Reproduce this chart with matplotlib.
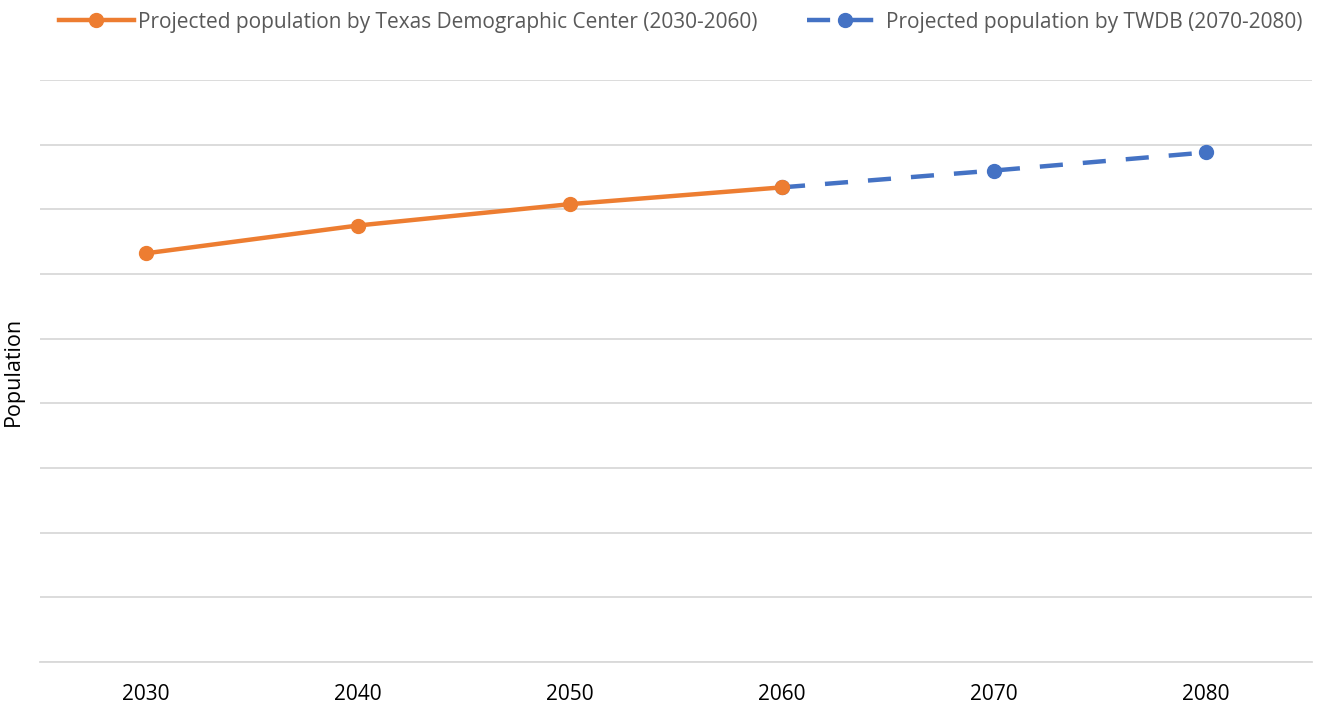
import matplotlib.pyplot as plt
import numpy as np

plt.rcParams['font.family'] = ['Open Sans', 'DejaVu Sans']

years = ['2030', '2040', '2050', '2060', '2070', '2080']
# population (axis has no numbers, units arbitrary)
tdc_pop = [63200, 67500, 70800, 73400]
twdb_years = ['2060', '2070', '2080']
twdb_pop = [73400, 76000, 78800]

fig = plt.figure(figsize=(13.27, 7.05), dpi=100)
ax = fig.add_axes([40 / 1327, 43 / 705, 1272 / 1327, 582 / 705])

x = np.arange(len(years))
x_twdb = [years.index(y) for y in twdb_years]

ax.plot(x_twdb, twdb_pop, color='#4472c4', lw=3.2, ls=(0, (5.2, 4.5)),
        marker='o', ms=10, label='Projected population by TWDB (2070-2080)', zorder=3)
ax.plot(x[:len(tdc_pop)], tdc_pop, color='#ed7d31', lw=3.2,
        marker='o', ms=10, label='Projected population by Texas Demographic Center (2030-2060)', zorder=4)

ax.set_xlim(-0.5, len(years) - 0.5)
ax.set_ylim(0, 90000)
ax.set_yticks(np.arange(0, 90001, 10000))
ax.yaxis.grid(True, color='#d9d9d9', lw=1.3)
ax.set_axisbelow(True)
ax.tick_params(axis='y', length=0, labelleft=False)
ax.set_xticks(x)
ax.set_xticklabels(years, fontsize=15)
ax.tick_params(axis='x', length=0, pad=16)
for s in ['top', 'right', 'left']:
    ax.spines[s].set_visible(False)
ax.spines['bottom'].set_color('#d9d9d9')
ax.spines['bottom'].set_linewidth(1.3)
ax.set_ylabel('Population', fontsize=15.5)
ax.yaxis.set_label_coords(-0.013, 0.5)

h, l = ax.get_legend_handles_labels()
fig.legend(h[::-1], l[::-1], loc='upper center', bbox_to_anchor=(0.513, 1.01), ncol=2,
           frameon=False, fontsize=15, labelcolor='#595959', handlelength=3.6,
           handletextpad=0.2, columnspacing=2.4)

fig.savefig('out.png', dpi=100)
